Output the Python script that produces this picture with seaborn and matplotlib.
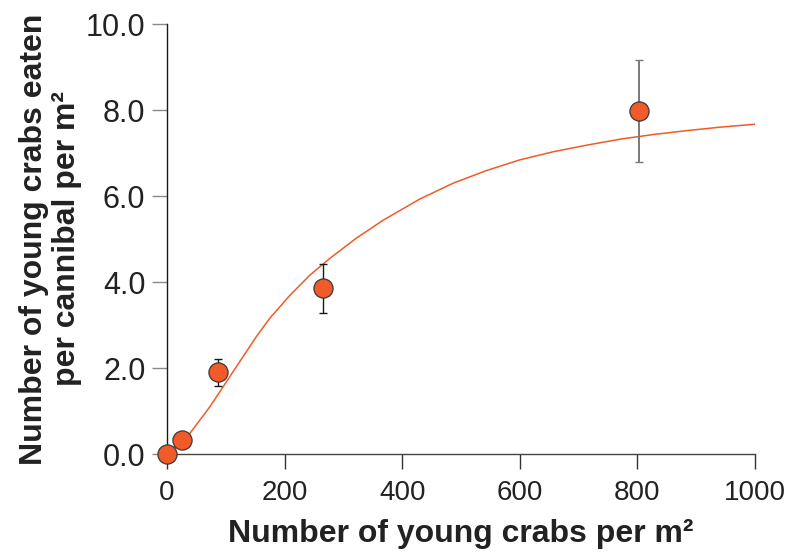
import matplotlib
matplotlib.use("Agg")
import matplotlib.pyplot as plt
import seaborn as sns
import numpy as np
import pandas as pd

# Observed data
density = [0, 25, 87, 265, 803]
eaten = [0.0, 0.32, 1.90, 3.86, 7.98]
err_low = [0.0, 0.0, 1.57, 3.28, 6.79]
err_high = [0.0, 0.0, 2.21, 4.42, 9.16]

# Fitted curve
curve_x = [0, 25, 39, 73, 118, 152, 175, 209, 243, 277, 322, 368, 430, 487, 543, 600, 657, 713, 770, 827, 884, 940, 1000]
curve_y = [0.0, 0.30, 0.48, 1.10, 2.03, 2.73, 3.16, 3.69, 4.16, 4.55, 5.02, 5.44, 5.93, 6.30, 6.59, 6.84, 7.03, 7.18, 7.32, 7.43, 7.52, 7.60, 7.67]

x_ticks = [0, 200, 400, 600, 800, 1000]
y_ticks = [0, 2, 4, 6, 8, 10]
y_tick_labels = ["0.0", "2.0", "4.0", "6.0", "8.0", "10.0"]

sns.set_style("ticks")
plt.rcParams['font.family'] = ['Liberation Sans', 'DejaVu Sans']

fig = plt.figure(figsize=(7.89, 5.58), dpi=100)
ax = fig.add_axes([167/789, 1-454/558, 588/789, 430/558])

orange = "#F15A29"

df_curve = pd.DataFrame({"x": curve_x, "y": curve_y})
sns.lineplot(data=df_curve, x="x", y="y", ax=ax, color=orange, linewidth=1.1,
             estimator=None, sort=False, zorder=2)

obs = pd.DataFrame({"x": density, "y": eaten})
dens = np.array(density)
mean = np.array(eaten)
ylo = mean - np.array(err_low)
yhi = np.array(err_high) - mean
mask = (ylo + yhi) > 0
idx = np.where(mask)[0]
bar_colors = {2: "#1a1a1a", 3: "#1a1a1a", 4: "#7a7a7a"}
for i in idx:
    ax.errorbar([dens[i]], [mean[i]], yerr=[[ylo[i]], [yhi[i]]], fmt='none',
                ecolor=bar_colors.get(i, "#1a1a1a"),
                elinewidth=1.0 if i != 4 else 1.4, capsize=2.8, capthick=1.0, zorder=3)

sns.scatterplot(data=obs, x="x", y="y", ax=ax, color=orange, s=190,
                edgecolor="#3a3a3a", linewidth=0.9, zorder=4, clip_on=False)
for coll in ax.collections:
    coll.set_clip_on(False)

ax.set_xlim(0, 1000)
ax.set_ylim(0, 10)
ax.set_xticks(x_ticks)
ax.set_xticklabels([str(t) for t in x_ticks])
ax.set_yticks(y_ticks)
ax.set_yticklabels(y_tick_labels)

ax.spines['top'].set_visible(False)
ax.spines['right'].set_visible(False)
ax.spines['left'].set_color("#1a1a1a")
ax.spines['left'].set_linewidth(1.0)
ax.spines['bottom'].set_color("#444444")
ax.spines['bottom'].set_linewidth(1.0)

ax.tick_params(axis='y', direction='out', length=11, width=1.0, color="#8a8a8a",
               labelsize=22, pad=4.5, labelcolor="#222222")
ax.tick_params(axis='x', direction='out', length=11, width=1.0, color="#333333",
               labelsize=20, pad=8, labelcolor="#222222")

ax.set_xlabel("Number of young crabs per m²", fontsize=23,
              fontweight='bold', color="#222222")
ax.set_ylabel("Number of young crabs eaten\nper cannibal per m²",
              fontsize=23, fontweight='bold', color="#222222", linespacing=1.1)
ax.xaxis.set_label_coords(0.5, -0.152)
ax.yaxis.set_label_coords(-0.145, 0.5)

fig.savefig("out.png", dpi=100)
